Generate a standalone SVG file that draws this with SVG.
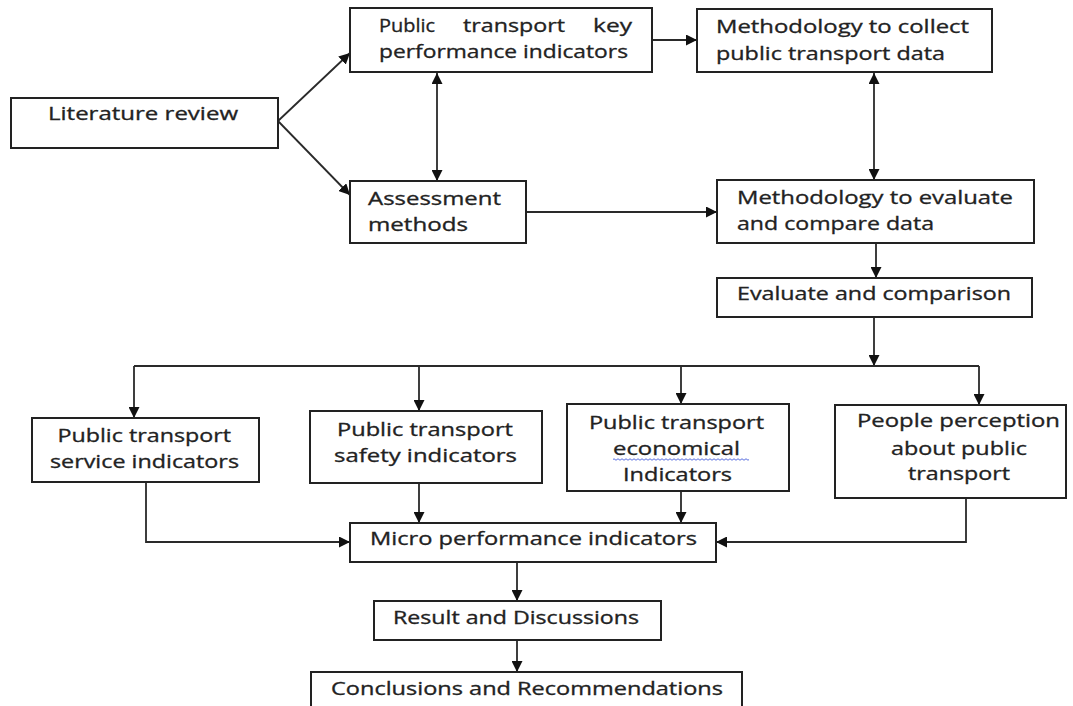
<svg xmlns="http://www.w3.org/2000/svg" width="1073" height="706" viewBox="0 0 1073 706">
<style>
.box{fill:#fff;stroke:#222;stroke-width:2}
.t{font-family:"Open Sans","Liberation Sans",sans-serif;font-size:17.5px;fill:#222;stroke:#222;stroke-width:0.3}
.ln{fill:none;stroke:#2a2a2a;stroke-width:1.8}
.arr{marker-end:url(#ah)}
.dbl{marker-start:url(#ah);marker-end:url(#ah)}
</style>
<defs>
<marker id="ah" viewBox="0 0 10 10" refX="10" refY="5" markerWidth="11" markerHeight="11" markerUnits="userSpaceOnUse" orient="auto-start-reverse"><path d="M0,0 L10,5 L0,10 z" fill="#111"/></marker>
</defs>
<rect width="1073" height="706" fill="#fff"/>
<g id="connectors">
<path class="ln arr" d="M278,121 L350,53"/>
<path class="ln arr" d="M278,121 L350,195"/>
<path class="ln arr" d="M652,40 H697"/>
<path class="ln dbl" d="M437,73 V181"/>
<path class="ln dbl" d="M874,73 V180"/>
<path class="ln arr" d="M526,212 H717"/>
<path class="ln arr" d="M876,243 V278"/>
<path class="ln arr" d="M874,317 V366"/>
<path class="ln" d="M134,366 H979"/>
<path class="ln arr" d="M134,366 V418"/>
<path class="ln arr" d="M419,366 V411"/>
<path class="ln arr" d="M681,366 V404"/>
<path class="ln arr" d="M979,366 V405"/>
<path class="ln arr" d="M146,482 V542 H350"/>
<path class="ln arr" d="M419,483 V523"/>
<path class="ln arr" d="M681,491 V523"/>
<path class="ln arr" d="M966,498 V542 H716"/>
<path class="ln arr" d="M517,562 V601"/>
<path class="ln arr" d="M517,640 V672"/>
</g>
<g id="lit">
<rect class="box" x="11" y="98" width="267" height="50"/>
<text class="t" x="48" y="120" textLength="190" lengthAdjust="spacingAndGlyphs">Literature review</text>
</g>
<g id="ptkpi">
<rect class="box" x="350" y="8" width="302" height="64"/>
<text class="t" x="379" y="32" textLength="56" lengthAdjust="spacingAndGlyphs">Public</text>
<text class="t" x="463" y="32" textLength="102" lengthAdjust="spacingAndGlyphs">transport</text>
<text class="t" x="593" y="32" textLength="39" lengthAdjust="spacingAndGlyphs">key</text>
<text class="t" x="379" y="58" textLength="249" lengthAdjust="spacingAndGlyphs">performance indicators</text>
</g>
<g id="collect">
<rect class="box" x="697" y="9" width="295" height="63"/>
<text class="t" x="716" y="33" textLength="253" lengthAdjust="spacingAndGlyphs">Methodology to collect</text>
<text class="t" x="716" y="60" textLength="229" lengthAdjust="spacingAndGlyphs">public transport data</text>
</g>
<g id="assessment">
<rect class="box" x="350" y="181" width="176" height="62"/>
<text class="t" x="368" y="205" textLength="133" lengthAdjust="spacingAndGlyphs">Assessment</text>
<text class="t" x="368" y="231" textLength="100" lengthAdjust="spacingAndGlyphs">methods</text>
</g>
<g id="evalmethod">
<rect class="box" x="717" y="180" width="317" height="63"/>
<text class="t" x="737" y="204" textLength="276" lengthAdjust="spacingAndGlyphs">Methodology to evaluate</text>
<text class="t" x="737" y="230" textLength="197" lengthAdjust="spacingAndGlyphs">and compare data</text>
</g>
<g id="evaluate">
<rect class="box" x="717" y="278" width="315" height="39"/>
<text class="t" x="737" y="300" textLength="274" lengthAdjust="spacingAndGlyphs">Evaluate and comparison</text>
</g>
<g id="service">
<rect class="box" x="32" y="418" width="227" height="64"/>
<text class="t" x="57.5" y="442" textLength="173.5" lengthAdjust="spacingAndGlyphs">Public transport</text>
<text class="t" x="50" y="468" textLength="189" lengthAdjust="spacingAndGlyphs">service indicators</text>
</g>
<g id="safety">
<rect class="box" x="310" y="411" width="232" height="72"/>
<text class="t" x="337" y="436" textLength="176" lengthAdjust="spacingAndGlyphs">Public transport</text>
<text class="t" x="334" y="462" textLength="183" lengthAdjust="spacingAndGlyphs">safety indicators</text>
</g>
<g id="economical">
<rect class="box" x="567" y="404" width="222" height="87"/>
<text class="t" x="589" y="429" textLength="175" lengthAdjust="spacingAndGlyphs">Public transport</text>
<text class="t" x="613" y="455" textLength="127" lengthAdjust="spacingAndGlyphs">economical</text>
<path d="M613,459.5 q1,-1.5 2,0 t2,0 t2,0 t2,0 t2,0 t2,0 t2,0 t2,0 t2,0 t2,0 t2,0 t2,0 t2,0 t2,0 t2,0 t2,0 t2,0 t2,0 t2,0 t2,0 t2,0 t2,0 t2,0 t2,0 t2,0 t2,0 t2,0 t2,0 t2,0 t2,0 t2,0 t2,0 t2,0 t2,0 t2,0 t2,0 t2,0 t2,0 t2,0 t2,0 t2,0 t2,0 t2,0 t2,0 t2,0 t2,0 t2,0 t2,0 t2,0 t2,0 t2,0 t2,0 t2,0 t2,0 t2,0 t2,0 t2,0 t2,0 t2,0 t2,0 t2,0 t2,0 t2,0 t2,0 t2,0 t2,0 t2,0 t2,0" fill="none" stroke="#5a6fe0" stroke-width="1"/>
<text class="t" x="623" y="481" textLength="109" lengthAdjust="spacingAndGlyphs">Indicators</text>
</g>
<g id="people">
<rect class="box" x="835" y="405" width="231" height="93"/>
<text class="t" x="857" y="427" textLength="203" lengthAdjust="spacingAndGlyphs">People perception</text>
<text class="t" x="891" y="455" textLength="136" lengthAdjust="spacingAndGlyphs">about public</text>
<text class="t" x="908" y="480" textLength="102" lengthAdjust="spacingAndGlyphs">transport</text>
</g>
<g id="micro">
<rect class="box" x="350" y="523" width="366" height="39"/>
<text class="t" x="370" y="545" textLength="327" lengthAdjust="spacingAndGlyphs">Micro performance indicators</text>
</g>
<g id="result">
<rect class="box" x="374" y="601" width="287" height="39"/>
<text class="t" x="393" y="624" textLength="246" lengthAdjust="spacingAndGlyphs">Result and Discussions</text>
</g>
<g id="conclusions">
<rect class="box" x="311" y="672" width="431" height="45"/>
<text class="t" x="331" y="695" textLength="392" lengthAdjust="spacingAndGlyphs">Conclusions and Recommendations</text>
</g>
</svg>
